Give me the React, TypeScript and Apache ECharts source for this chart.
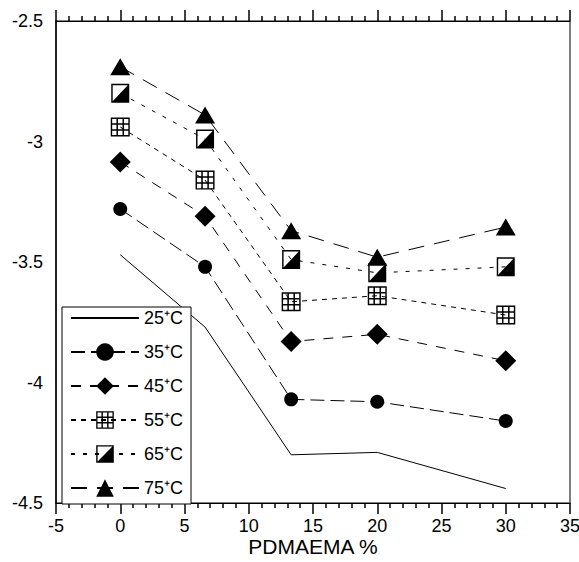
import React, { useEffect, useRef } from "react";
import * as echarts from "echarts";

// ---- data ----
const xValues = [0, 6.6, 13.3, 20, 30];
const seriesNames = ["25⁺C", "35⁺C", "45⁺C", "55⁺C", "65⁺C", "75⁺C"];
const t25 = [-3.47, -3.77, -4.3, -4.29, -4.44];
const t35 = [-3.28, -3.52, -4.07, -4.08, -4.16];
const t45 = [-3.085, -3.31, -3.83, -3.8, -3.91];
const t55 = [-2.94, -3.16, -3.665, -3.64, -3.72];
const t65 = [-2.8, -2.99, -3.49, -3.545, -3.52];
const t75 = [-2.69, -2.89, -3.37, -3.48, -3.355];
const xAxisTitle = "PDMAEMA %";
const X_MIN = -5;
const X_MAX = 35;
const Y_MIN = -4.5;
const Y_MAX = -2.5;

const FONT = "'Liberation Sans', Arial, Helvetica, sans-serif";

const GRID_SQ =
  "path://M0 0H20V20H0Z M1.5 1.5V18.5H18.5V1.5Z M6 0H7.6V20H6Z M12.4 0H14V20H12.4Z M0 6H20V7.6H0Z M0 12.4H20V14H0Z";
const HALF_SQ =
  "path://M0 0H20V20H0Z M1.6 1.6V18.4H18.4V1.6Z M1.6 18.4L18.4 1.6L18.4 18.4Z";

function mk(name: string, vals: number[], symbol: string, size: any, dash: any) {
  return {
    type: "line",
    name,
    data: xValues.map((x, i) => [x, vals[i]]),
    symbol,
    symbolSize: size,
    showSymbol: symbol !== "none",
    lineStyle: { color: "#000", width: 1, type: dash },
    itemStyle: { color: "#000" },
    emphasis: { disabled: true },
    silent: true,
    z: 3,
  };
}

const ticks = {
  axisTick: { show: true, length: 11, lineStyle: { color: "#000", width: 1.5 } },
  minorTick: { show: true, splitNumber: 5, length: 5, lineStyle: { color: "#000", width: 1.5 } },
  splitLine: { show: false },
  minorSplitLine: { show: false },
};

export default function App() {
  const ref = useRef<HTMLDivElement>(null);
  useEffect(() => {
    if (!ref.current) return;
    const chart = echarts.init(ref.current, null, { renderer: "svg" });
    chart.setOption({
      animation: false,
      backgroundColor: "#fff",
      grid: {
        left: 56,
        right: 9,
        top: 21,
        bottom: 59,
        containLabel: false,
        outerBoundsMode: "none",
        show: true,
        borderColor: "#000",
        borderWidth: 1,
        backgroundColor: "transparent",
      },
      xAxis: [
        {
          type: "value",
          min: X_MIN,
          max: X_MAX,
          interval: 5,
          position: "bottom",
          axisLine: { show: true, onZero: false, lineStyle: { color: "#000", width: 1 } },
          ...ticks,
          axisLabel: { color: "#000", fontSize: 18, fontFamily: FONT, margin: 14 },
          name: xAxisTitle,
          nameLocation: "middle",
          nameGap: 33,
          nameMoveOverlap: false,
          nameTextStyle: { color: "#000", fontSize: 21, fontFamily: FONT },
        },
        {
          type: "value",
          min: X_MIN,
          max: X_MAX,
          interval: 5,
          position: "top",
          axisLine: { show: true, onZero: false, lineStyle: { color: "#000", width: 1 } },
          ...ticks,
          axisLabel: { show: false },
        },
      ],
      yAxis: {
        type: "value",
        min: Y_MIN,
        max: Y_MAX,
        interval: 0.5,
        position: "left",
        axisLine: { show: true, onZero: false, lineStyle: { color: "#000", width: 1.5 } },
        axisTick: { show: false },
        splitLine: { show: false },
        axisLabel: { color: "#000", fontSize: 18, fontFamily: FONT, margin: 13 },
      },
      legend: {
        orient: "vertical",
        left: 62,
        top: 307,
        padding: [2, 8, 7, 8],
        itemWidth: 68,
        itemHeight: 22,
        itemGap: 16,
        itemTextGap: 6,
        backgroundColor: "#fff",
        borderColor: "#000",
        borderWidth: 1,
        borderRadius: 0,
        selectedMode: false,
        z: 10,
        textStyle: { color: "#000", fontSize: 18, fontFamily: FONT },
        data: [
          { name: seriesNames[0], itemStyle: { color: "rgba(0,0,0,0)", borderWidth: 0 } },
          seriesNames[1],
          seriesNames[2],
          seriesNames[3],
          seriesNames[4],
          seriesNames[5],
        ],
      },
      series: [
        mk(seriesNames[0], t25, "none", 0, "solid"),
        mk(seriesNames[1], t35, "circle", 14, [14, 6]),
        mk(seriesNames[2], t45, "diamond", [21, 21], [10, 9]),
        mk(seriesNames[3], t55, GRID_SQ, [19, 19], [5, 5]),
        mk(seriesNames[4], t65, HALF_SQ, [18, 19], [4, 8]),
        mk(seriesNames[5], t75, "triangle", [20, 17], [16, 10]),
      ],
    });
    return () => chart.dispose();
  }, []);
  return (
    <div
      ref={ref}
      style={{ position: "absolute", left: 0, top: 0, width: 579, height: 562, background: "#fff" }}
    />
  );
}
